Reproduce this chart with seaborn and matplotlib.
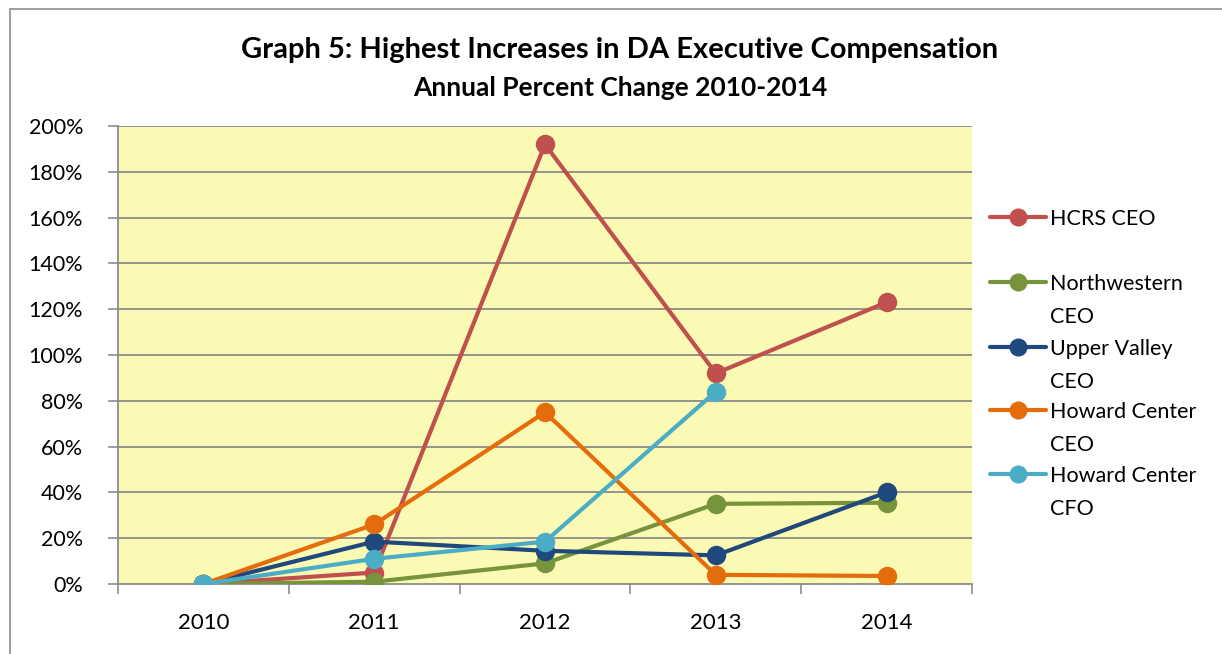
import pandas as pd
import numpy as np
import matplotlib.pyplot as plt
import seaborn as sns
from matplotlib.lines import Line2D
from matplotlib.patches import Rectangle

# datos
years = ['2010', '2011', '2012', '2013', '2014']
series_names = ['HCRS CEO', 'Northwestern CEO', 'Upper Valley CEO',
                'Howard Center CEO', 'Howard Center CFO']
legend_labels = [['HCRS CEO'], ['Northwestern', 'CEO'], ['Upper Valley', 'CEO'],
                 ['Howard Center', 'CEO'], ['Howard Center', 'CFO']]
hcrs_ceo = [0, 5, 192, 92, 123]
northwestern_ceo = [0, 1, 9, 35, 35.5]
upper_valley_ceo = [0, 18.5, 14.5, 12.5, 40]
howard_ceo = [0, 26, 75, 4, 3.5]
howard_cfo = [0, 11, 18.5, 84, np.nan]
colors = ['#C0504D', '#77933C', '#1F497D', '#E46C0A', '#4BACC6']

values = [hcrs_ceo, northwestern_ceo, upper_valley_ceo, howard_ceo, howard_cfo]
rows = []
for name, vals in zip(series_names, values):
    for i, v in enumerate(vals):
        rows.append({'serie': name, 'x': i, 'pct': v})
df = pd.DataFrame(rows).dropna()

sns.set_style('white')
plt.rcParams['font.family'] = ['Lato', 'DejaVu Sans']
plt.rcParams['text.color'] = 'black'

W, H = 1222, 654
fig = plt.figure(figsize=(W/100, H/100), dpi=100)
ax = fig.add_axes([118/W, 1-584/H, (972-118)/W, (584-126)/H])

# borde del area del grafico
fig.add_artist(Rectangle((10/W, -0.1), 1.2, 1.1 - 9/H, transform=fig.transFigure,
                         fill=False, edgecolor='#8C8C8C', lw=1.2))

ax.set_facecolor('#FAFAB4')
for y in range(20, 201, 20):
    ax.axhline(y, color='#8C8C8C', lw=1.3, zorder=1)

sns.lineplot(data=df, x='x', y='pct', hue='serie', hue_order=series_names,
             palette=colors, marker='o', markersize=14, markeredgewidth=0,
             linewidth=3, legend=False, ax=ax, zorder=3)

ax.set_xlim(-0.5, 4.5)
ax.set_ylim(0, 200)
ax.set_xticks(range(5))
ax.set_xticklabels(years)
ax.set_xticks(np.arange(-0.5, 5, 1), minor=True)
ax.set_yticks(range(0, 201, 20))
ax.set_yticklabels([f'{v}%' for v in range(0, 201, 20)])
ax.tick_params(axis='x', which='major', length=0, pad=21, labelsize=16, labelcolor='black')
ax.tick_params(axis='x', which='minor', length=7, width=1.2, color='#8C8C8C', direction='out')
ax.tick_params(axis='y', length=7, width=1.2, color='#8C8C8C', direction='out',
               labelsize=15.5, pad=18, labelcolor='black')
ax.tick_params(bottom=True, left=True)
ax.xaxis.set_tick_params(which='minor', bottom=True)
ax.set_xlabel('')
ax.set_ylabel('')
for s in ['top', 'right']:
    ax.spines[s].set_visible(False)
for s in ['left', 'bottom']:
    ax.spines[s].set_color('#8C8C8C')
    ax.spines[s].set_linewidth(1.3)

fig.text(620/W, 1-50/H, 'Graph 5: Highest Increases in DA Executive Compensation',
         ha='center', va='center', fontsize=21, fontweight='bold')
fig.text(620/W, 1-88/H, 'Annual Percent Change 2010-2014',
         ha='center', va='center', fontsize=19, fontweight='bold')

# leyenda manual (marcador alineado con la primera linea, como en Excel)
legend_y = [217, 282, 347, 410, 474]
for lines, col, ly in zip(legend_labels, colors, legend_y):
    yf = 1 - ly/H
    fig.add_artist(Line2D([990/W, 1046/W], [yf, yf], transform=fig.transFigure,
                          color=col, lw=3))
    fig.add_artist(Line2D([1018/W], [yf], transform=fig.transFigure,
                          color=col, marker='o', markersize=13, markeredgewidth=0, lw=0))
    for k, txt in enumerate(lines):
        fig.text(1050/W, 1 - (ly + 8 + 33*k)/H, txt, ha='left', va='baseline',
                 fontsize=15.5)

plt.savefig('out.png', dpi=100)
plt.close()
